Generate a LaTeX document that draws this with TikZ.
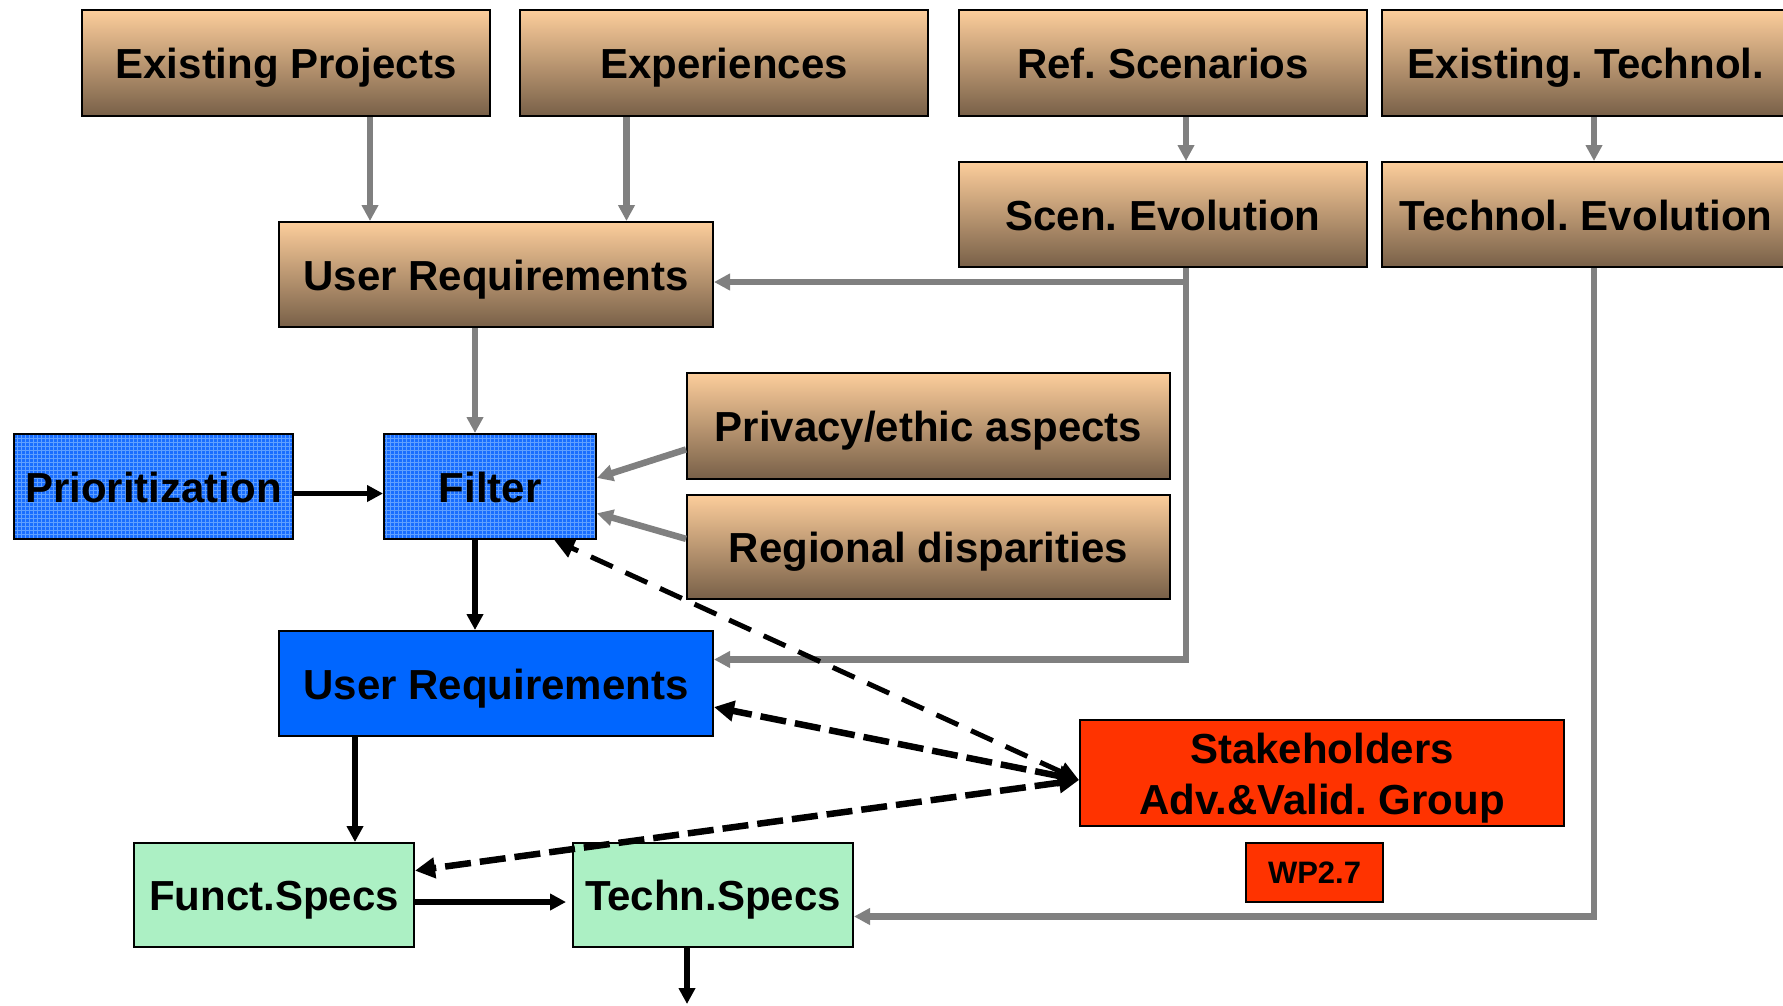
\documentclass[tikz,border=0pt]{standalone}
\usepackage{fontspec}
\setmainfont{Liberation Sans}
\usetikzlibrary{arrows.meta,calc}

\definecolor{peach}{RGB}{252,205,155}
\definecolor{tanmid}{RGB}{212,172,130}
\definecolor{brownb}{RGB}{120,96,72}
\definecolor{bluepat}{RGB}{25,110,255}
\definecolor{bluegrid}{RGB}{95,160,255}
\definecolor{blueurs}{RGB}{0,102,255}
\definecolor{redsh}{RGB}{255,51,0}
\definecolor{mint}{RGB}{172,240,196}
\definecolor{conn}{RGB}{128,128,128}

\tikzset{
  boxbase/.style={draw=black, line width=2pt, inner sep=0pt, align=center,
    font=\fontsize{42}{51}\selectfont\bfseries\frenchspacing},
  box/.style={boxbase, text height=34pt, text depth=3pt},
  tanbox/.style={box, top color=peach, middle color=tanmid, bottom color=brownb},
  patbox/.style={box, fill=bluepat, path picture={
      \draw[bluegrid, line width=0.7pt] (path picture bounding box.south west)
        grid[xstep=4pt, ystep=4pt] (path picture bounding box.north east);}},
  bluebox/.style={box, fill=blueurs},
  redbox/.style={boxbase, fill=redsh},
  greenbox/.style={box, fill=mint},
  garrow/.style={draw=conn, line width=6.5pt, -{Triangle[length=16pt,width=16pt]}},
  barrow/.style={draw=black, line width=5.5pt, -{Triangle[length=16pt,width=16pt]}},
  dashA/.style={draw=black, line width=5pt, dash pattern=on 24pt off 14pt,
    {Triangle[length=20pt,width=19pt]}-{Triangle[length=20pt,width=19pt]}},
  dashB/.style={draw=black, line width=6.5pt, dash pattern=on 26pt off 9pt,
    {Triangle[length=20pt,width=20pt]}-{Triangle[length=20pt,width=20pt]}},
}

\begin{document}
\frenchspacing
\begin{tikzpicture}[x=1pt,y=-1pt]
\useasboundingbox (0,0) rectangle (1783,1005);
\fill[white] (0,0) rectangle (1783,1005);

% top row
\node[tanbox, minimum width=408pt, minimum height=106pt] (EP) at (286,63) {Existing Projects};
\node[tanbox, minimum width=408pt, minimum height=106pt] (Exp) at (724,63) {Experiences};
\node[tanbox, minimum width=408pt, minimum height=106pt] (RS) at (1163,63) {Ref. Scenarios};
\node[tanbox, minimum width=408pt, minimum height=106pt] (ET) at (1586,63) {Existing. Technol.};
% second row
\node[tanbox, minimum width=408pt, minimum height=105pt] (SE) at (1163,214.5) {Scen. Evolution};
\node[tanbox, minimum width=408pt, minimum height=105pt] (TE) at (1586,214.5) {Technol. Evolution};
\node[tanbox, minimum width=434pt, minimum height=105pt] (URt) at (496,274.5) {User Requirements};
% side inputs
\node[tanbox, minimum width=483pt, minimum height=106pt] (Priv) at (928.5,426) {Privacy/ethic aspects};
\node[tanbox, minimum width=483pt, minimum height=104pt] (Reg) at (928.5,547) {Regional disparities};
% blue
\node[patbox, minimum width=279pt, minimum height=105pt] (Pri) at (153.5,486.5) {Prioritization};
\node[patbox, minimum width=212pt, minimum height=105pt] (Fil) at (490,486.5) {Filter};
\node[bluebox, minimum width=434pt, minimum height=105pt] (URb) at (496,683.5) {User Requirements};
% stakeholders
\node[redbox, minimum width=484pt, minimum height=106pt] (Stk) at (1322,773) {\rule{0pt}{41pt}Stakeholders\\Adv.\&Valid. Group};
\node[redbox, minimum width=137pt, minimum height=59pt, font=\fontsize{31}{36}\selectfont\bfseries, text height=23pt, text depth=1pt] (WP) at (1314.5,872.5) {WP2.7};
% specs
\node[greenbox, minimum width=280pt, minimum height=104pt] (Fu) at (274,895) {Funct.Specs};
\node[greenbox, minimum width=280pt, minimum height=104pt] (TS) at (713,895) {Techn.Specs};

% helper coordinates
\coordinate (cA) at (370,0);
\coordinate (cB) at (626.5,0);
\coordinate (cC) at (1186,0);
\coordinate (cD) at (1594,0);
\coordinate (cE) at (475,0);
\coordinate (cF) at (355,0);
\coordinate (cG) at (687,1004);
\coordinate (sEbranch) at (1186,282);
\coordinate (sEbend) at (1186,659.5);
\coordinate (tEbend) at (1594,916.5);

% grey connectors
\draw[garrow] (cA |- EP.south) -- (cA |- URt.north);
\draw[garrow] (cB |- Exp.south) -- (cB |- URt.north);
\draw[garrow] (cC |- RS.south) -- (cC |- SE.north);
\draw[garrow] (cD |- ET.south) -- (cD |- TE.north);
\draw[garrow] (cC |- SE.south) -- (sEbend) -- (sEbend -| URb.east);
\draw[garrow] (sEbranch) -- (sEbranch -| URt.east);
\draw[garrow] (cD |- TE.south) -- (tEbend) -- (tEbend -| TS.east);
\draw[garrow] (cE |- URt.south) -- (cE |- Fil.north);
\draw[garrow] ($(Priv.south west)!0.283!(Priv.north west)$) -- ($(Fil.south east)!0.58!(Fil.north east)$);
\draw[garrow] ($(Reg.south west)!0.577!(Reg.north west)$) -- ($(Fil.south east)!0.25!(Fil.north east)$);

% black connectors
\draw[barrow] ([yshift=-7pt]Pri.east) -- ([yshift=-7pt]Fil.west);
\draw[barrow] (cE |- Fil.south) -- (cE |- URb.north);
\draw[barrow] (cF |- URb.south) -- (cF |- Fu.north);
\draw[barrow, shorten >=6pt] ([yshift=-7pt]Fu.east) -- ([yshift=-7pt]TS.west);
\draw[barrow] (cG |- TS.south) -- (cG);

% dashed connectors
\draw[dashA] ([yshift=-7pt]Stk.west) -- ($(Fil.south)!0.6!(Fil.south east)$);
\draw[dashB] ([yshift=-7pt]Stk.west) -- ($(URb.south east)!0.28!(URb.north east)$);
\draw[dashB] ([yshift=-7pt]Stk.west) -- ($(Fu.south east)!0.73!(Fu.north east)$);
\end{tikzpicture}
\end{document}
